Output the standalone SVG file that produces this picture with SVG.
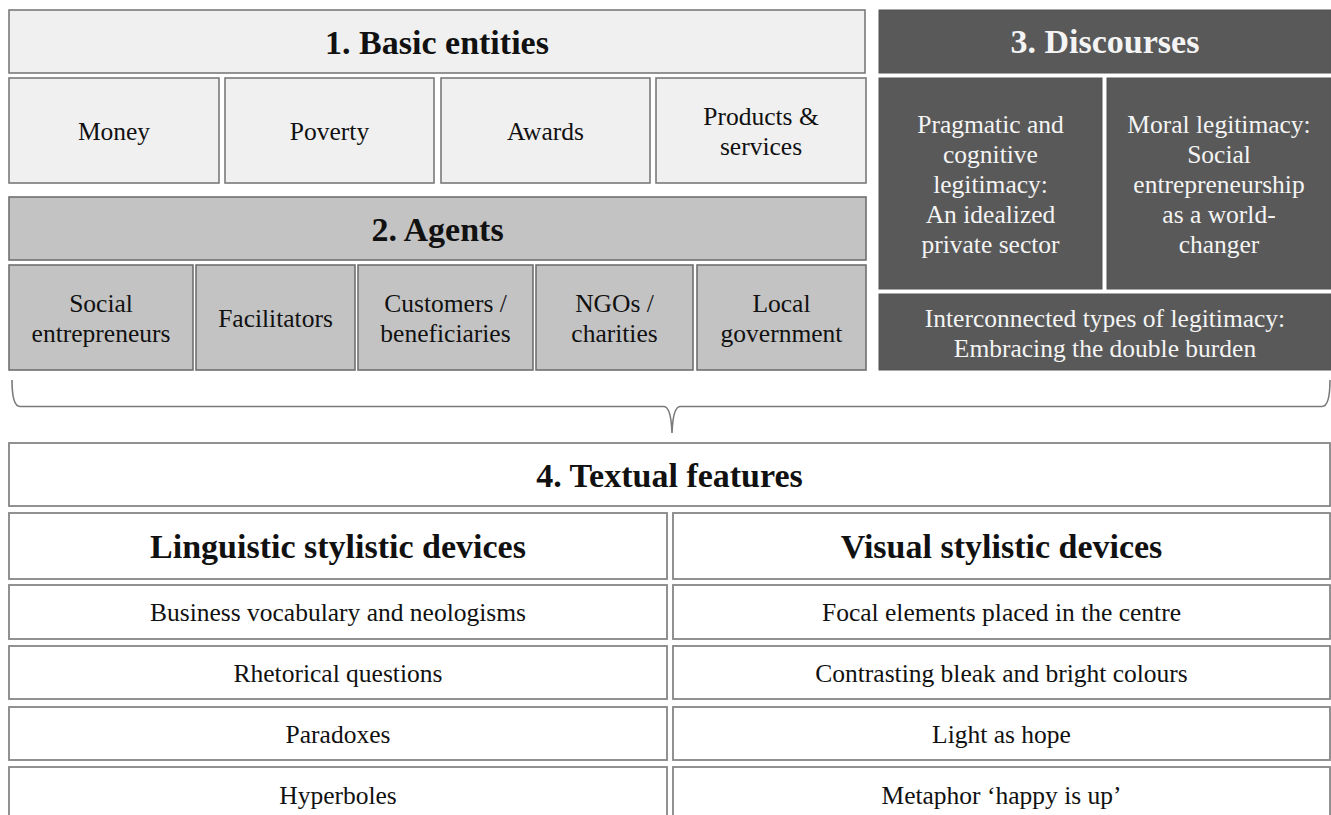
<svg xmlns="http://www.w3.org/2000/svg" width="1331" height="815" viewBox="0 0 1331 815" font-family="'Liberation Serif', 'DejaVu Serif', 'Times New Roman', Times, serif">
  <style>
    text { font-family: 'Liberation Serif', 'DejaVu Serif', 'Times New Roman', Times, serif; text-anchor: middle; }
    .title { font-size: 34px; font-weight: bold; }
    .body { font-size: 25.5px; }
    .light rect { fill: #f0f0f0; stroke: #7a7a7a; stroke-width: 1.6; }
    .light text { fill: #111111; }
    .mid rect { fill: #c3c3c3; stroke: #707070; stroke-width: 1.6; }
    .mid text { fill: #111111; }
    .dark rect { fill: #595959; stroke: #555555; stroke-width: 1; }
    .dark text { fill: #f4f4f4; }
    .plain rect { fill: #ffffff; stroke: #868686; stroke-width: 1.8; }
    .plain text { fill: #111111; }
    .brace { fill: none; stroke: #7a7a7a; stroke-width: 1.6; }
  </style>
  <rect width="1331" height="815" fill="#ffffff"/>

  <!-- 1. Basic entities -->
  <g id="basic-entities" class="light">
    <rect x="9" y="10" width="856" height="63"/>
    <text class="title" x="437" y="54">1. Basic entities</text>
  </g>
  <g id="money" class="light">
    <rect x="9" y="78" width="210" height="105"/>
    <text class="body" x="114" y="140">Money</text>
  </g>
  <g id="poverty" class="light">
    <rect x="225" y="78" width="209" height="105"/>
    <text class="body" x="329.5" y="140">Poverty</text>
  </g>
  <g id="awards" class="light">
    <rect x="441" y="78" width="209" height="105"/>
    <text class="body" x="545.5" y="140">Awards</text>
  </g>
  <g id="products" class="light">
    <rect x="656" y="78" width="210" height="105"/>
    <text class="body" x="761" y="124.5">Products &amp;</text>
    <text class="body" x="761" y="155">services</text>
  </g>

  <!-- 2. Agents -->
  <g id="agents" class="mid">
    <rect x="9" y="197" width="857" height="63"/>
    <text class="title" x="437.5" y="241">2. Agents</text>
  </g>
  <g id="social-entrepreneurs" class="mid">
    <rect x="9" y="265" width="184" height="105"/>
    <text class="body" x="101" y="312">Social</text>
    <text class="body" x="101" y="342">entrepreneurs</text>
  </g>
  <g id="facilitators" class="mid">
    <rect x="196" y="265" width="159" height="105"/>
    <text class="body" x="275.5" y="327">Facilitators</text>
  </g>
  <g id="customers" class="mid">
    <rect x="358" y="265" width="175" height="105"/>
    <text class="body" x="445.5" y="312">Customers /</text>
    <text class="body" x="445.5" y="342">beneficiaries</text>
  </g>
  <g id="ngos" class="mid">
    <rect x="536" y="265" width="157" height="105"/>
    <text class="body" x="614.5" y="312">NGOs /</text>
    <text class="body" x="614.5" y="342">charities</text>
  </g>
  <g id="local-government" class="mid">
    <rect x="697" y="265" width="169" height="105"/>
    <text class="body" x="781.5" y="312">Local</text>
    <text class="body" x="781.5" y="342">government</text>
  </g>

  <!-- 3. Discourses -->
  <g id="discourses" class="dark">
    <rect x="879" y="10" width="452" height="63"/>
    <text class="title" x="1105" y="53">3. Discourses</text>
  </g>
  <g id="pragmatic" class="dark">
    <rect x="879" y="78" width="223" height="211"/>
    <text class="body" x="990.5" y="132.5">Pragmatic and</text>
    <text class="body" x="990.5" y="162.7">cognitive</text>
    <text class="body" x="990.5" y="192.9">legitimacy:</text>
    <text class="body" x="990.5" y="223.1">An idealized</text>
    <text class="body" x="990.5" y="253.3">private sector</text>
  </g>
  <g id="moral" class="dark">
    <rect x="1107" y="78" width="224" height="211"/>
    <text class="body" x="1219" y="132.5">Moral legitimacy:</text>
    <text class="body" x="1219" y="162.7">Social</text>
    <text class="body" x="1219" y="192.9">entrepreneurship</text>
    <text class="body" x="1219" y="223.1">as a world-</text>
    <text class="body" x="1219" y="253.3">changer</text>
  </g>
  <g id="interconnected" class="dark">
    <rect x="879" y="294" width="452" height="76"/>
    <text class="body" x="1105" y="327">Interconnected types of legitimacy:</text>
    <text class="body" x="1105" y="357">Embracing the double burden</text>
  </g>

  <!-- brace gathering the upper blocks -->
  <g id="connectors">
    <path class="brace" d="M12,380 Q12,406.5 20,406.5 L664,406.5 Q671,407 672,433 Q673,407 680,406.5 L1322,406.5 Q1330,406.5 1330,380"/>
  </g>

  <!-- 4. Textual features -->
  <g id="textual-features" class="plain">
    <rect x="9" y="443" width="1321" height="63"/>
    <text class="title" x="669.5" y="487">4. Textual features</text>
  </g>
  <g id="linguistic" class="plain">
    <rect x="9" y="513" width="658" height="66"/>
    <text class="title" x="338" y="558">Linguistic stylistic devices</text>
  </g>
  <g id="visual" class="plain">
    <rect x="673" y="513" width="657" height="66"/>
    <text class="title" x="1001.5" y="558">Visual stylistic devices</text>
  </g>
  <g id="business-vocabulary" class="plain">
    <rect x="9" y="585" width="658" height="54"/>
    <text class="body" x="338" y="621">Business vocabulary and neologisms</text>
  </g>
  <g id="focal-elements" class="plain">
    <rect x="673" y="585" width="657" height="54"/>
    <text class="body" x="1001.5" y="621">Focal elements placed in the centre</text>
  </g>
  <g id="rhetorical-questions" class="plain">
    <rect x="9" y="646" width="658" height="53"/>
    <text class="body" x="338" y="682">Rhetorical questions</text>
  </g>
  <g id="contrasting-colours" class="plain">
    <rect x="673" y="646" width="657" height="53"/>
    <text class="body" x="1001.5" y="682">Contrasting bleak and bright colours</text>
  </g>
  <g id="paradoxes" class="plain">
    <rect x="9" y="707" width="658" height="53"/>
    <text class="body" x="338" y="743">Paradoxes</text>
  </g>
  <g id="light-as-hope" class="plain">
    <rect x="673" y="707" width="657" height="53"/>
    <text class="body" x="1001.5" y="743">Light as hope</text>
  </g>
  <g id="hyperboles" class="plain">
    <rect x="9" y="767" width="658" height="60"/>
    <text class="body" x="338" y="804">Hyperboles</text>
  </g>
  <g id="metaphor" class="plain">
    <rect x="673" y="767" width="657" height="60"/>
    <text class="body" x="1001.5" y="804">Metaphor ‘happy is up’</text>
  </g>
</svg>
